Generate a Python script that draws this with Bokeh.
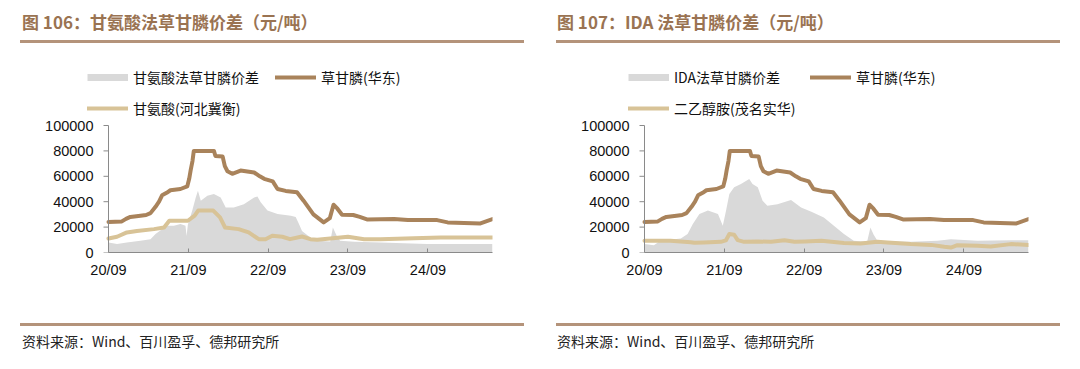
import numpy as np
import pandas as pd
from bokeh.plotting import figure
from bokeh.layouts import column, row
from bokeh.models import (Range1d, FixedTicker, DatetimeTickFormatter, NumeralTickFormatter,
                          Legend, LegendItem, Div, ColumnDataSource)
from bokeh.embed import file_html
from bokeh.resources import INLINE

# ---------------- data ----------------
# 草甘膦(华东) 元/吨
gly_dates = ["2020-09-01", "2020-11-01", "2020-11-20", "2020-12-10", "2021-01-25", "2021-02-20",
             "2021-03-12", "2021-04-04", "2021-04-20", "2021-05-04", "2021-05-25", "2021-06-11",
             "2021-07-27", "2021-08-27", "2021-09-05", "2021-09-12", "2021-09-20", "2021-09-26",
             "2021-12-27", "2022-01-03", "2022-02-05", "2022-02-15", "2022-02-27", "2022-03-21",
             "2022-04-28", "2022-06-29", "2022-07-25", "2022-08-14", "2022-09-22", "2022-10-14",
             "2022-11-20", "2023-01-11", "2023-02-10", "2023-03-27", "2023-05-13", "2023-06-10",
             "2023-06-27", "2023-07-15", "2023-08-05", "2023-09-25", "2023-10-25", "2023-11-27",
             "2024-03-30", "2024-06-01", "2024-10-13", "2024-11-30", "2025-04-29", "2025-06-23"]
gly_vals = [24000, 24500, 26500, 28000, 29000, 29500,
            31000, 36000, 40000, 45000, 47000, 49000,
            50000, 52000, 58000, 65000, 72000, 80000,
            80000, 76000, 75500, 68000, 64000, 62000,
            64500, 63000, 60000, 58000, 56000, 50000,
            48500, 47500, 40800, 30000, 23700, 27000,
            37600, 34500, 29700, 29500, 28000, 26000,
            26300, 25500, 25500, 23700, 22900, 26300]

# 甘氨酸(河北冀衡)
glycine_dates = ["2020-09-01", "2020-10-10", "2020-11-24", "2021-01-09", "2021-03-28", "2021-05-13",
                 "2021-06-06", "2021-08-30", "2021-09-30", "2021-10-16", "2021-12-24", "2022-01-24",
                 "2022-02-16", "2022-04-19", "2022-06-04", "2022-07-20", "2022-08-20", "2022-09-20",
                 "2022-11-05", "2022-12-10", "2023-02-03", "2023-03-13", "2023-04-13", "2023-06-12",
                 "2023-09-01", "2023-11-14", "2024-01-28", "2024-06-28", "2024-10-29", "2025-06-23"]
glycine_vals = [11000, 12400, 15800, 17000, 18400, 19700,
                25000, 25000, 29000, 33000, 33000, 27600,
                19700, 18400, 15800, 10500, 10500, 13200,
                12400, 10500, 12600, 10500, 10000, 11000,
                12400, 10500, 10500, 11300, 11800, 11800]

# 甘氨酸法草甘膦价差
spread1_dates = ["2020-09-01", "2020-10-10", "2020-11-24", "2021-01-25", "2021-03-12", "2021-04-04",
                 "2021-05-04", "2021-05-28", "2021-06-27", "2021-07-27", "2021-08-19", "2021-08-24",
                 "2021-08-30", "2021-09-19", "2021-10-05", "2021-10-15", "2021-10-28", "2021-11-27",
                 "2021-12-27", "2022-01-27", "2022-02-19", "2022-03-28", "2022-05-13", "2022-06-29",
                 "2022-07-14", "2022-07-29", "2022-08-29", "2022-10-14", "2022-12-14", "2023-01-05",
                 "2023-01-20", "2023-02-03", "2023-03-13", "2023-04-13", "2023-06-12", "2023-06-24",
                 "2023-07-12", "2023-07-27", "2023-09-30", "2024-01-28", "2024-08-28", "2025-06-23"]
spread1_vals = [7900, 6600, 7900, 9200, 10500, 14500,
                18400, 21000, 21000, 22400, 21000, 13000,
                22000, 33000, 43400, 48700, 40800, 44700,
                46000, 43400, 35500, 35500, 38000, 43400,
                44000, 39500, 33000, 30300, 29000, 28000,
                22400, 17000, 11800, 9200, 8700, 19700,
                13000, 9200, 8400, 7900, 6600, 6600]

# 二乙醇胺(茂名实华)
dea_dates = ["2020-09-01", "2020-12-29", "2021-03-31", "2021-04-17", "2021-05-31", "2021-08-16",
             "2021-09-08", "2021-09-24", "2021-10-16", "2021-11-01", "2021-12-01", "2022-02-01",
             "2022-04-03", "2022-06-03", "2022-07-19", "2022-09-04", "2022-11-19", "2023-03-02",
             "2023-05-17", "2023-08-02", "2023-09-17", "2024-01-02", "2024-04-03", "2024-06-03",
             "2024-07-03", "2024-08-02", "2024-11-02", "2025-01-01", "2025-04-03", "2025-06-23"]
dea_vals = [9200, 9200, 8000, 7600, 7900, 8400,
            9500, 14500, 14000, 9700, 8400, 8700,
            8400, 9700, 8400, 8700, 9200, 7400,
            7100, 8400, 7900, 6600, 6000, 4500,
            3900, 5800, 5300, 4700, 6600, 6000]

# IDA法草甘膦价差
spread2_dates = ["2020-09-01", "2020-10-14", "2020-11-13", "2021-02-14", "2021-03-17", "2021-04-10",
                 "2021-05-10", "2021-06-18", "2021-08-03", "2021-08-25", "2021-09-09", "2021-09-24",
                 "2021-10-16", "2021-11-16", "2021-12-24", "2022-01-08", "2022-02-01", "2022-02-23",
                 "2022-03-17", "2022-05-02", "2022-07-03", "2022-08-18", "2022-10-04", "2022-11-30",
                 "2023-01-15", "2023-03-02", "2023-04-16", "2023-06-16", "2023-07-01", "2023-07-16",
                 "2023-08-02", "2023-09-17", "2024-01-02", "2024-05-03", "2024-07-03", "2024-11-02",
                 "2025-04-03", "2025-06-23"]
spread2_vals = [6600, 5800, 9200, 11000, 14500, 22400,
                30300, 33000, 30300, 21000, 33000, 46000,
                51300, 54000, 57900, 54000, 51300, 40800,
                36800, 38000, 41300, 35500, 32000, 27600,
                21000, 14500, 9200, 8400, 19700, 14000,
                9200, 8700, 8400, 9200, 10500, 9200,
                9700, 9700]

tick_dates = ["2020-09-01", "2021-09-01", "2022-09-01", "2023-09-01", "2024-09-01"]
y_ticks = [0, 20000, 40000, 60000, 80000, 100000]
Y_MAX = 100000

# ---------------- style / layout ----------------
C_GLY = "#a9835b"
C_TAN = "#d8c397"
C_GRAY = "#d9d9d9"
C_AXIS = "#8a8a8a"
CJK = "Noto Sans CJK SC"
NUM = "Liberation Sans"

AX_START = pd.Timestamp("2020-09-01")
AX_END = pd.Timestamp("2025-06-23")
AXIS_W = 384          # px from first tick to end of data
PLOT_H = 127          # px from 0 to 100000
EXTRA_TOP = 65        # px of frame above 100000 (room for legend)
PX_PER_DAY = AXIS_W / (AX_END - AX_START).days
Y_TOP = Y_MAX * (PLOT_H + EXTRA_TOP) / PLOT_H
LABEL_GAP = 15        # px between y axis line and right edge of its labels


def make_chart(spread_dates, spread_vals, spread_label, other_dates, other_vals, other_label,
               border_left, border_right, ext_left, spacing):
    x_start = AX_START - pd.Timedelta(days=ext_left / PX_PER_DAY)
    p = figure(frame_width=AXIS_W + ext_left, frame_height=PLOT_H + EXTRA_TOP,
               x_axis_type="datetime", output_backend="svg", toolbar_location=None,
               min_border_left=border_left, min_border_right=border_right,
               min_border_top=12, min_border_bottom=60,
               x_range=Range1d(x_start, AX_END), y_range=Range1d(0, Y_TOP))
    p.outline_line_color = None
    p.background_fill_color = "white"
    p.border_fill_color = "white"
    p.xgrid.grid_line_color = None
    p.ygrid.grid_line_color = None

    s_dt = pd.to_datetime(spread_dates)
    s_src = ColumnDataSource(dict(x=s_dt, y=spread_vals))
    p.varea(x="x", y1=0, y2="y", source=s_src, fill_color=C_GRAY, fill_alpha=1)

    o_src = ColumnDataSource(dict(x=pd.to_datetime(other_dates), y=other_vals))
    r_other = p.line(x="x", y="y", source=o_src, line_color=C_TAN, line_width=4,
                     line_join="round", line_cap="round")

    g_src = ColumnDataSource(dict(x=pd.to_datetime(gly_dates), y=gly_vals))
    r_gly = p.line(x="x", y="y", source=g_src, line_color=C_GLY, line_width=4,
                   line_join="round", line_cap="round")

    # legend swatch for the area series (a one-point line draws nothing in the plot)
    swatch = p.line(x=s_dt[:1], y=spread_vals[:1], line_color=C_GRAY, line_width=7, line_cap="butt")

    # y axis line and outward ticks at the first x tick
    p.segment(x0=[AX_START], y0=[y_ticks[0]], x1=[AX_START], y1=[y_ticks[-1]],
              line_color=C_AXIS, line_width=1)
    p.ray(x=[AX_START] * len(y_ticks), y=y_ticks, length=5, length_units="screen",
          angle=np.pi, line_color=C_AXIS, line_width=1)

    xa = p.xaxis[0]
    xa.ticker = FixedTicker(ticks=[pd.Timestamp(d).value / 1e6 for d in tick_dates])
    fmt = "%y/%m"
    xa.formatter = DatetimeTickFormatter(microseconds=fmt, milliseconds=fmt, seconds=fmt, minsec=fmt,
                                         minutes=fmt, hourmin=fmt, hours=fmt, days=fmt,
                                         months=fmt, years=fmt)
    xa.bounds = (AX_START.value / 1e6, AX_END.value / 1e6)
    xa.major_tick_in = 4
    xa.major_tick_out = 0
    xa.minor_tick_line_color = None
    xa.axis_line_color = C_AXIS
    xa.major_tick_line_color = C_AXIS
    xa.major_label_text_font = NUM
    xa.major_label_text_font_size = "14.5px"
    xa.major_label_text_color = "#111111"
    xa.major_label_standoff = 9

    ya = p.yaxis[0]
    ya.ticker = FixedTicker(ticks=y_ticks)
    ya.formatter = NumeralTickFormatter(format="0")
    ya.bounds = (0, Y_MAX)
    ya.major_tick_in = 0
    ya.major_tick_out = 0
    ya.minor_tick_line_color = None
    ya.axis_line_color = None
    ya.major_tick_line_color = None
    ya.major_label_text_font = NUM
    ya.major_label_text_font_size = "14.5px"
    ya.major_label_text_color = "#111111"
    ya.major_label_standoff = LABEL_GAP - ext_left

    common = dict(orientation="horizontal", padding=0, margin=0, spacing=spacing,
                  glyph_width=41, glyph_height=20, label_height=20, label_standoff=5,
                  label_text_font=CJK, label_text_font_size="14px", label_text_color="#111111",
                  background_fill_alpha=0, border_line_color=None)
    leg1 = Legend(items=[LegendItem(label=spread_label, renderers=[swatch]),
                         LegendItem(label="草甘膦(华东)", renderers=[r_gly])],
                  location=(0, PLOT_H + 38), **common)
    leg2 = Legend(items=[LegendItem(label=other_label, renderers=[r_other])],
                  location=(0, PLOT_H + 7), **common)
    p.add_layout(leg1)
    p.add_layout(leg2)
    return p


pL = make_chart(spread1_dates, spread1_vals, "甘氨酸法草甘膦价差",
                glycine_dates, glycine_vals, "甘氨酸(河北冀衡)", 87, 48, 21, 16)
pR = make_chart(spread2_dates, spread2_vals, "IDA法草甘膦价差",
                dea_dates, dea_vals, "二乙醇胺(茂名实华)", 88, 44, 16, 30)

TITLE_COLOR = "#9a7352"
RULE_COLOR = "#b4937a"

top_html = (
    '<div style="position:relative;width:1072px;height:48px;">'
    f'<div style="position:absolute;left:22px;top:12px;line-height:20px;white-space:nowrap;'
    f'font-family:\'{CJK}\';font-weight:bold;font-size:17px;color:{TITLE_COLOR};">图 106：甘氨酸法草甘膦价差（元/吨）</div>'
    f'<div style="position:absolute;left:20px;top:40px;width:504px;height:3px;background:{RULE_COLOR};"></div>'
    f'<div style="position:absolute;left:557px;top:12px;line-height:20px;white-space:nowrap;'
    f'font-family:\'{CJK}\';font-weight:bold;font-size:17px;color:{TITLE_COLOR};">图 107：IDA 法草甘膦价差（元/吨）</div>'
    f'<div style="position:absolute;left:556px;top:40px;width:504px;height:3px;background:{RULE_COLOR};"></div>'
    '</div>'
)
bottom_html = (
    '<div style="position:relative;width:1072px;height:50px;">'
    f'<div style="position:absolute;left:20px;top:11px;width:504px;height:3px;background:{RULE_COLOR};"></div>'
    f'<div style="position:absolute;left:22px;top:19px;line-height:20px;white-space:nowrap;'
    f'font-family:\'{CJK}\';font-size:14px;color:#222222;">资料来源：Wind、百川盈孚、德邦研究所</div>'
    f'<div style="position:absolute;left:556px;top:11px;width:504px;height:3px;background:{RULE_COLOR};"></div>'
    f'<div style="position:absolute;left:557px;top:19px;line-height:20px;white-space:nowrap;'
    f'font-family:\'{CJK}\';font-size:14px;color:#222222;">资料来源：Wind、百川盈孚、德邦研究所</div>'
    '</div>'
)

top = Div(text=top_html, width=1072, height=48, margin=0)
bottom = Div(text=bottom_html, width=1072, height=50, margin=0)

layout = column(top, row(pL, pR, spacing=0), bottom, spacing=0)

open("out.html", "w").write(file_html(layout, INLINE))
